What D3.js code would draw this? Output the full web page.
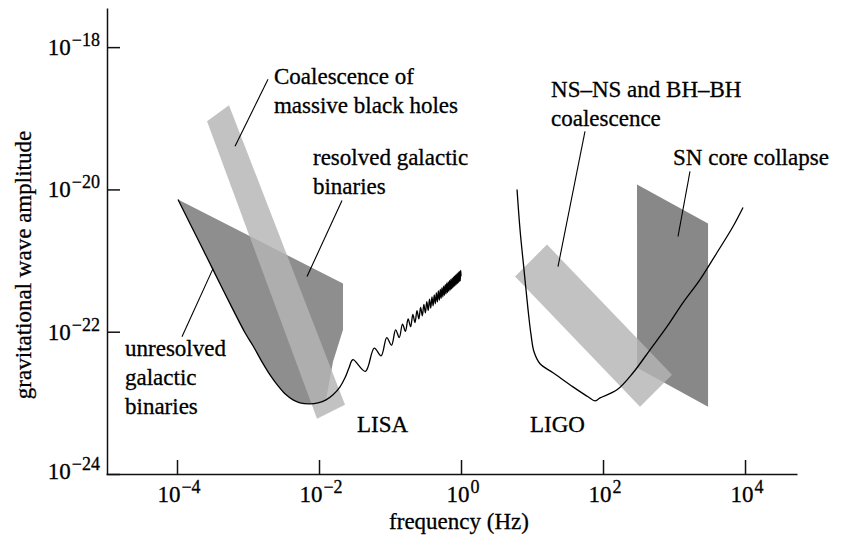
<!DOCTYPE html>
<html><head><meta charset="utf-8">
<script src="https://cdn.jsdelivr.net/npm/d3@7/dist/d3.min.js"></script>
<style>body{margin:0;background:#fff} text{stroke:#000;stroke-width:0.3px}</style>
</head><body><svg id="chart" width="843" height="539"></svg>
<script>
// All values are log10 exponents: [log10 frequency (Hz), log10 amplitude]
const xTickExp = [-4, -2, 0, 2, 4];
const yTickExp = [-18, -20, -22, -24];

// LISA sensitivity: smooth low-frequency part
const lisaSmooth = [[-3.986,-20.141],[-3.676,-20.761],[-3.493,-21.127],[-3.211,-21.690],[-3.042,-22.014],
 [-2.930,-22.197],[-2.803,-22.423],[-2.690,-22.606],[-2.577,-22.761],[-2.479,-22.873],[-2.366,-22.958],
 [-2.268,-23.000],[-2.127,-23.014],[-2.014,-23.000],[-1.901,-22.958],[-1.803,-22.887],[-1.704,-22.775],
 [-1.634,-22.648],[-1.577,-22.507],[-1.523,-22.394]];
// LISA sensitivity: oscillating high-frequency part (troughs / peaks)
const lisaWiggle = [[-1.347,-22.557],[-1.222,-22.230],[-1.125,-22.338],[-1.046,-22.082],[-0.979,-22.190],
 [-0.921,-21.974],[-0.870,-22.082],[-0.824,-21.892],[-0.783,-21.995],[-0.745,-21.820],[-0.710,-21.928],
 [-0.678,-21.758],[-0.648,-21.871],[-0.620,-21.705],[-0.594,-21.821],[-0.569,-21.658],[-0.545,-21.776],
 [-0.523,-21.616],[-0.502,-21.736],[-0.482,-21.578],[-0.462,-21.700],[-0.444,-21.543],[-0.426,-21.667],
 [-0.409,-21.511],[-0.393,-21.636],[-0.377,-21.481],[-0.362,-21.607],[-0.347,-21.454],[-0.333,-21.581],
 [-0.319,-21.428],[-0.305,-21.556],[-0.292,-21.404],[-0.280,-21.532],[-0.268,-21.381],[-0.256,-21.510],
 [-0.244,-21.359],[-0.233,-21.489],[-0.222,-21.339],[-0.211,-21.469],[-0.201,-21.319],[-0.190,-21.450],
 [-0.181,-21.301],[-0.171,-21.432],[-0.161,-21.283],[-0.152,-21.414],[-0.143,-21.266],[-0.134,-21.398],
 [-0.125,-21.250],[-0.116,-21.382],[-0.108,-21.234],[-0.100,-21.366],[-0.092,-21.219],[-0.084,-21.352],
 [-0.076,-21.204],[-0.068,-21.337],[-0.061,-21.190],[-0.053,-21.324],[-0.046,-21.177],[-0.039,-21.310],
 [-0.032,-21.164],[-0.025,-21.297],[-0.018,-21.151],[-0.011,-21.285],[-0.004,-21.139],[0.000,-21.220]];
// LIGO sensitivity
const ligoCurve = [[0.789,-20.000],[0.831,-20.563],[0.887,-21.127],[0.944,-21.690],[0.986,-22.042],
 [1.028,-22.282],[1.113,-22.451],[1.296,-22.577],[1.577,-22.775],[1.789,-22.915],[1.887,-22.972],
 [1.958,-22.930],[2.197,-22.817],[2.423,-22.577],[2.662,-22.254],[2.901,-21.930],[3.127,-21.592],
 [3.366,-21.268],[3.606,-20.887],[3.831,-20.521],[3.972,-20.254]];
// Source regions
const galacticUpper = [[-3.986,-20.141],[-1.662,-21.324],[-1.662,-21.972],[-1.803,-22.423],[-1.901,-22.958]];
const mbhBand = [[-3.577,-19.042],[-3.268,-18.817],[-1.634,-23.028],[-2.028,-23.225]];
const nsBand = [[0.761,-21.225],[1.211,-20.775],[2.972,-22.606],[2.521,-23.056]];
const snRegion = [[2.479,-19.930],[3.479,-20.479],[3.479,-23.056],[2.479,-22.507]];
// Annotations
const labelTexts = [["Coalescence of","massive black holes"],["resolved galactic","binaries"],
 ["unresolved","galactic","binaries"],["NS\u2013NS and BH\u2013BH","coalescence"],["SN core collapse"],["LISA"],["LIGO"]];
const labelAnchors = [[-2.634,-18.521],[-2.085,-19.662],[-4.732,-22.338],[1.268,-18.704],[2.986,-19.662],[-1.465,-23.408],[0.972,-23.408]];
const leaderLines = [[[-2.718,-18.451],[-3.183,-19.394]],[[-1.676,-20.155],[-2.169,-21.225]],
 [[-3.930,-22.070],[-3.493,-21.113]],[[1.746,-19.183],[1.366,-21.085]],[[3.225,-19.746],[3.056,-20.662]]];

const svg = d3.select("#chart");
const FONT = "'Liberation Serif','Times New Roman',serif";
const x = d3.scaleLog().domain([1e-5, Math.pow(10, 4.732)]).range([106, 797]);
const y = d3.scaleLog().domain([1e-24, Math.pow(10, -17.45)]).range([474, 8]);
const px = p => x(Math.pow(10, p[0]));
const py = p => y(Math.pow(10, p[1]));
const poly = d3.line().x(px).y(py).curve(d3.curveLinearClosed);
const smooth = d3.line().x(px).y(py).curve(d3.curveCatmullRom.alpha(0.5));
const straight = d3.line().x(px).y(py);

// regions
const galacticPoly = galacticUpper.concat(lisaSmooth.filter(p => p[0] < -1.95).reverse());
svg.append("path").attr("d", poly(galacticPoly)).attr("fill", "#8e8e8e");
svg.append("path").attr("d", poly(mbhBand)).attr("fill", "#b4b4b4").attr("fill-opacity", 0.82);
svg.append("path").attr("d", poly(snRegion)).attr("fill", "#888888");
svg.append("path").attr("d", poly(nsBand)).attr("fill", "#b4b4b4").attr("fill-opacity", 0.82);

// curves
svg.append("path").attr("d", smooth(lisaSmooth.concat(lisaWiggle))).attr("fill", "none")
  .attr("stroke", "#000").attr("stroke-width", 1.3);
svg.append("path").attr("d", smooth(ligoCurve)).attr("fill", "none")
  .attr("stroke", "#000").attr("stroke-width", 1.3);

// leaders
leaderLines.forEach(l => svg.append("path").attr("d", straight(l)).attr("stroke", "#000")
  .attr("stroke-width", 1.1).attr("fill", "none"));

// labels
labelTexts.forEach((lines, i) => {
  const t = svg.append("text").attr("font-family", FONT).attr("font-size", 23).attr("fill", "#000");
  lines.forEach((s, j) => t.append("tspan").attr("x", px(labelAnchors[i])).attr("y", py(labelAnchors[i]) + j * 29).text(s));
});

// axes
const xAxis = d3.axisBottom(x).tickValues(xTickExp.map(e => Math.pow(10, e))).tickSize(-14).tickSizeOuter(0).tickFormat("");
const yAxis = d3.axisLeft(y).tickValues(yTickExp.map(e => Math.pow(10, e))).tickSize(-13).tickSizeOuter(0).tickFormat("");
const gx = svg.append("g").attr("transform", "translate(0,474)").call(xAxis);
const gy = svg.append("g").attr("transform", "translate(107,0)").call(yAxis);
[gx, gy].forEach(g => { g.selectAll("path,line").attr("stroke", "#111").attr("stroke-width", 1.5); });

function powLabel(sel, e) {
  sel.append("tspan").text("10");
  sel.append("tspan").attr("font-size", 18).attr("dy", -9).attr("dx", 1).text(e < 0 ? "\u2212" + (-e) : String(e));
}
xTickExp.forEach(e => {
  const t = svg.append("text").attr("font-family", FONT).attr("font-size", 23).attr("text-anchor", "middle")
    .attr("x", x(Math.pow(10, e)) + 2).attr("y", 502);
  powLabel(t, e);
});
yTickExp.forEach(e => {
  const t = svg.append("text").attr("font-family", FONT).attr("font-size", 23).attr("text-anchor", "end")
    .attr("x", 100).attr("y", y(Math.pow(10, e)) + (e === -24 ? 5 : 8));
  powLabel(t, e);
});

svg.append("text").attr("font-family", FONT).attr("font-size", 23).attr("text-anchor", "middle")
  .attr("x", 459).attr("y", 529).text("frequency (Hz)");
svg.append("text").attr("font-family", FONT).attr("font-size", 23).attr("text-anchor", "middle")
  .attr("transform", "translate(31,265) rotate(-90)").text("gravitational wave amplitude");
</script></body></html>
